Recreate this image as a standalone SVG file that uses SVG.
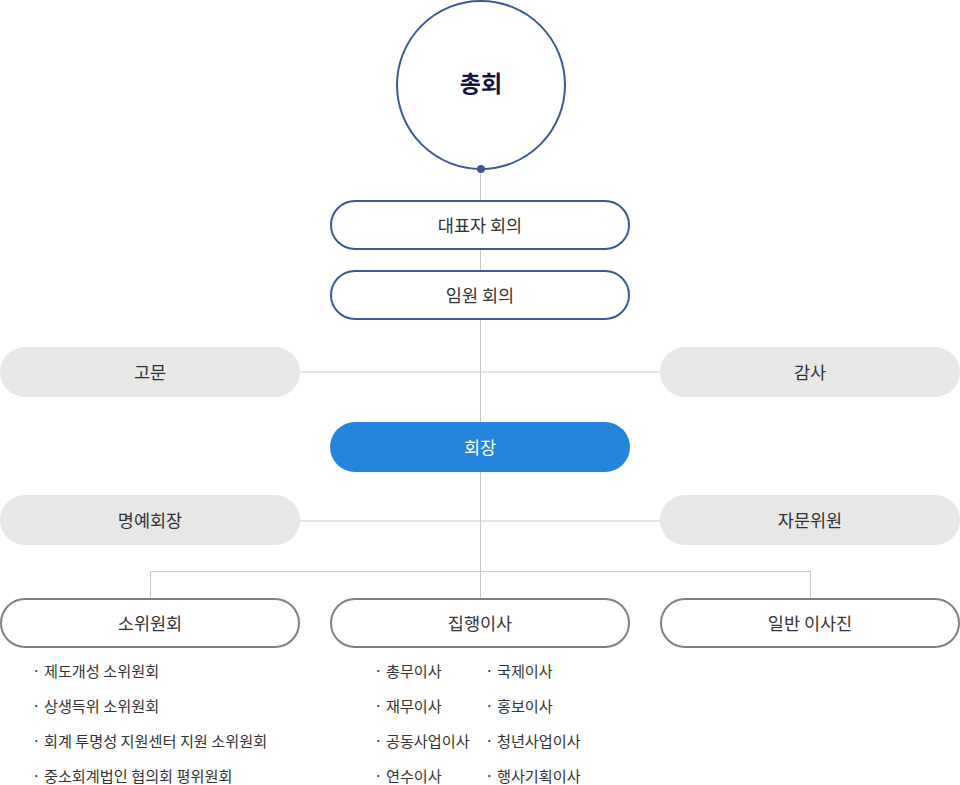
<svg xmlns="http://www.w3.org/2000/svg" width="960" height="785" viewBox="0 0 960 785">
<style>
text{font-family:"Noto Sans CJK KR","Noto Sans",sans-serif;}
.lbl{font-size:17.5px;fill:#333;text-anchor:middle;dominant-baseline:central;}
.blue{fill:#fff;stroke:#3a5a95;stroke-width:2;}
.gray{fill:#e7e7e7;}
.out{fill:#fff;stroke:#808080;stroke-width:2;}
.con{stroke:#c8c8c8;stroke-width:1;fill:none;}
.li{font-size:15.2px;fill:#333;dominant-baseline:central;}
</style>
<rect width="960" height="785" fill="#fff"/>
<g id="connectors">
<path class="con" d="M480.5 169V598"/>
<path class="con" d="M300 372H660"/>
<path class="con" d="M300 521H660"/>
<path class="con" d="M150.5 598V571.5H810.5V598"/>
</g>
<g id="chonghoe">
<circle cx="481" cy="85" r="84" fill="#fff" stroke="#3a5a95" stroke-width="2"/>
<circle cx="481" cy="169" r="4" fill="#3a5a95"/>
<text x="481" y="82" style="font-size:23px;font-weight:bold;fill:#15153f;text-anchor:middle;dominant-baseline:central;">총회</text>
</g>
<g id="daepyo">
<rect class="blue" x="331" y="201" width="298" height="48" rx="24"/>
<text class="lbl" x="480" y="224">대표자 회의</text>
</g>
<g id="imwon">
<rect class="blue" x="331" y="271" width="298" height="48" rx="24"/>
<text class="lbl" x="480" y="294">임원 회의</text>
</g>
<g id="gomun">
<rect class="gray" x="0" y="347" width="300" height="50" rx="25"/>
<text class="lbl" x="150" y="371">고문</text>
</g>
<g id="gamsa">
<rect class="gray" x="660" y="347" width="300" height="50" rx="25"/>
<text class="lbl" x="810" y="371">감사</text>
</g>
<g id="hoejang">
<rect x="330" y="422" width="300" height="50" rx="25" fill="#2585dc"/>
<text class="lbl" x="480" y="446" style="fill:#fff">회장</text>
</g>
<g id="myeongye">
<rect class="gray" x="0" y="495" width="300" height="50" rx="25"/>
<text class="lbl" x="150" y="519">명예회장</text>
</g>
<g id="jamun">
<rect class="gray" x="660" y="495" width="300" height="50" rx="25"/>
<text class="lbl" x="810" y="519">자문위원</text>
</g>
<g id="sowiwon">
<rect class="out" x="1" y="599" width="298" height="48" rx="24"/>
<text class="lbl" x="150" y="622">소위원회</text>
<text class="li" x="32" y="670">· 제도개성 소위원회</text>
<text class="li" x="32" y="705">· 상생득위 소위원회</text>
<text class="li" x="32" y="740">· 회계 투명성 지원센터 지원 소위원회</text>
<text class="li" x="32" y="775">· 중소회계법인 협의회 평위원회</text>
</g>
<g id="jiphaeng">
<rect class="out" x="331" y="599" width="298" height="48" rx="24"/>
<text class="lbl" x="480" y="622">집행이사</text>
<text class="li" x="374" y="670">· 총무이사</text>
<text class="li" x="374" y="705">· 재무이사</text>
<text class="li" x="374" y="740">· 공동사업이사</text>
<text class="li" x="374" y="775">· 연수이사</text>
<text class="li" x="485" y="670">· 국제이사</text>
<text class="li" x="485" y="705">· 홍보이사</text>
<text class="li" x="485" y="740">· 청년사업이사</text>
<text class="li" x="485" y="775">· 행사기획이사</text>
</g>
<g id="ilban">
<rect class="out" x="661" y="599" width="298" height="48" rx="24"/>
<text class="lbl" x="810" y="622">일반 이사진</text>
</g>
</svg>
